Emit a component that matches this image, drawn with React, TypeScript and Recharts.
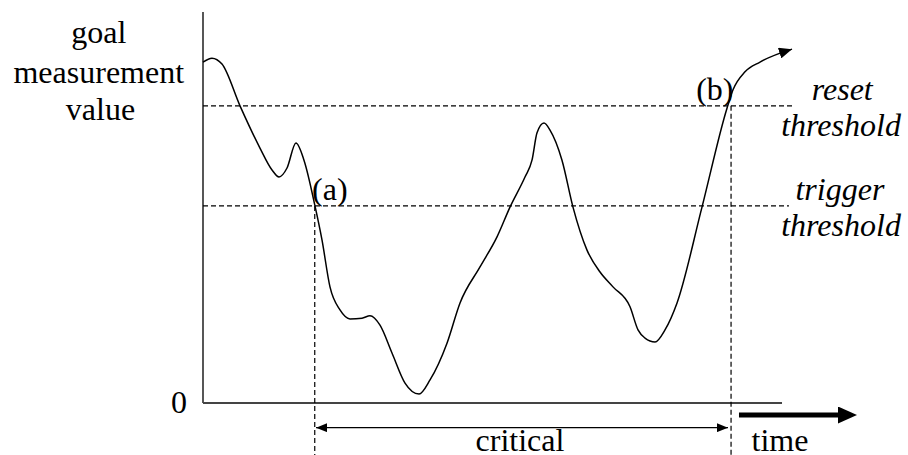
import { LineChart, Line, XAxis, YAxis, ReferenceLine, ReferenceDot } from 'recharts';

// time runs 0..100 along the drawn axis, value 0..100 up the drawn axis
const X_MIN = -35.06;
const X_MAX = 121.76;
const Y_MIN = -13.3;
const Y_MAX = 103.07;

const curveTime = [
  0, 1.55, 3.28, 6.39, 9.84, 11.92, 13.13, 14.51, 16.06, 17.44, 19.34, 20.55, 21.93, 23.66, 25.39,
  27.46, 28.84, 30.57, 32.64, 34.89, 37.31, 39.21, 42.14, 44.39, 47.84, 50.78, 53.02, 55.61, 56.82,
  57.69, 58.89, 59.93, 62.0, 63.9, 66.32, 68.57, 70.81, 73.75, 75.13, 76.34, 78.07, 79.79, 81.87,
  86.18, 90.5, 91.54, 93.61, 96.2, 101.73,
];
const curveValue = [
  87.2, 88.2, 86.7, 76.0, 65.2, 59.6, 57.8, 60.1, 66.5, 62.1, 50.4, 41.7, 29.7, 23.8, 21.5,
  21.7, 22.3, 19.9, 12.8, 5.1, 2.3, 5.9, 15.3, 25.6, 34.8, 42.5, 50.1, 57.8, 62.1,
  69.1, 71.6, 69.8, 62.1, 50.1, 39.1, 33.5, 29.7, 24.6, 18.7, 16.6, 15.6, 18.7, 25.6,
  50.1, 75.4, 80.1, 84.7, 87.2, 90.5,
];

const resetThreshold = 76;
const triggerThreshold = 50.4;
const pointA = 19.3;
const pointB = 91.2;

const curve = curveTime.map((t, i) => ({ t, v: curveValue[i] }));
const criticalSpan = [
  { t: 19.52, v: -6.3 },
  { t: 90.67, v: -6.3 },
];
const timeArrow = [
  { t: 92.57, v: -3.07 },
  { t: 109.67, v: -3.07 },
];

const notes = [
  { text: 'goal', t: -18.0, v: 92.0 },
  { text: 'measurement', t: -18.0, v: 81.8 },
  { text: 'value', t: -17.7, v: 72.4 },
  { text: '0', t: -4.15, v: -2.6 },
  { text: '(a)', t: 21.9, v: 52.0 },
  { text: '(b)', t: 88.4, v: 77.6 },
  { text: 'reset', t: 110.4, v: 77.6, italic: true },
  { text: 'threshold', t: 110.2, v: 68.3, italic: true },
  { text: 'trigger', t: 110.0, v: 52.0, italic: true },
  { text: 'threshold', t: 110.2, v: 42.7, italic: true },
  { text: 'critical', t: 54.75, v: -12.2 },
  { text: 'time', t: 99.65, v: -12.2 },
];

const FONT = 'Liberation Serif';

function Note({ cx, cy, text, italic }: { cx: number; cy: number; text: string; italic?: boolean }) {
  return (
    <text
      x={cx}
      y={cy}
      textAnchor="middle"
      style={{ fontFamily: FONT, fontSize: 32, fontStyle: italic ? 'italic' : 'normal' }}
      fill="#000"
    >
      {text}
    </text>
  );
}

export default function App() {
  return (
    <div style={{ position: 'absolute', left: 0, top: 0, width: 908, height: 455, background: '#fff' }}>
      <svg width={0} height={0} style={{ position: 'absolute' }}>
        <defs>
          <marker id="curveHead" viewBox="0 0 13 11" markerWidth={13} markerHeight={11} refX={13} refY={5.5} orient="auto" markerUnits="userSpaceOnUse">
            <path d="M0,0 L13,5.5 L0,11 z" fill="#000" />
          </marker>
          <marker id="critHead" viewBox="0 0 11 9" markerWidth={11} markerHeight={9} refX={11} refY={4.5} orient="auto-start-reverse" markerUnits="userSpaceOnUse">
            <path d="M0,0 L11,4.5 L0,9 z" fill="#000" />
          </marker>
          <marker id="timeHead" viewBox="0 0 19 17" markerWidth={19} markerHeight={17} refX={0} refY={8.5} orient="auto" markerUnits="userSpaceOnUse">
            <path d="M0,0 L19,8.5 L0,17 z" fill="#000" />
          </marker>
        </defs>
      </svg>
      <LineChart width={908} height={455} margin={{ top: 0, right: 0, bottom: 0, left: 0 }}>
        <XAxis type="number" dataKey="t" domain={[X_MIN, X_MAX]} allowDataOverflow hide />
        <YAxis type="number" domain={[Y_MIN, Y_MAX]} allowDataOverflow hide />

        <ReferenceLine segment={[{ x: 0, y: 0 }, { x: 0, y: 100 }]} stroke="#444" strokeWidth={1.8} />
        <ReferenceLine segment={[{ x: 0, y: 0 }, { x: 100, y: 0 }]} stroke="#444" strokeWidth={1.8} />

        <ReferenceLine segment={[{ x: 0, y: resetThreshold }, { x: 101.9, y: resetThreshold }]} stroke="#000" strokeWidth={1.2} strokeDasharray="5 3" />
        <ReferenceLine segment={[{ x: 0, y: triggerThreshold }, { x: 101.2, y: triggerThreshold }]} stroke="#000" strokeWidth={1.2} strokeDasharray="5 3" />
        <ReferenceLine segment={[{ x: pointA, y: triggerThreshold }, { x: pointA, y: Y_MIN }]} stroke="#000" strokeWidth={1.2} strokeDasharray="5 3" />
        <ReferenceLine segment={[{ x: pointB, y: resetThreshold }, { x: pointB, y: Y_MIN }]} stroke="#000" strokeWidth={1.2} strokeDasharray="5 3" />

        <Line
          data={curve}
          dataKey="v"
          type="monotone"
          stroke="#000"
          strokeWidth={1.5}
          dot={false}
          activeDot={false}
          isAnimationActive={false}
          markerEnd="url(#curveHead)"
        />
        <Line
          data={criticalSpan}
          dataKey="v"
          type="linear"
          stroke="#000"
          strokeWidth={1.3}
          dot={false}
          activeDot={false}
          isAnimationActive={false}
          markerStart="url(#critHead)"
          markerEnd="url(#critHead)"
        />
        <Line
          data={timeArrow}
          dataKey="v"
          type="linear"
          stroke="#000"
          strokeWidth={5}
          dot={false}
          activeDot={false}
          isAnimationActive={false}
          markerEnd="url(#timeHead)"
        />

        {notes.map((n, i) => (
          <ReferenceDot
            key={i}
            x={n.t}
            y={n.v}
            r={0}
            shape={(p: any) => <Note cx={p.cx} cy={p.cy} text={n.text} italic={n.italic} />}
          />
        ))}
      </LineChart>
    </div>
  );
}
